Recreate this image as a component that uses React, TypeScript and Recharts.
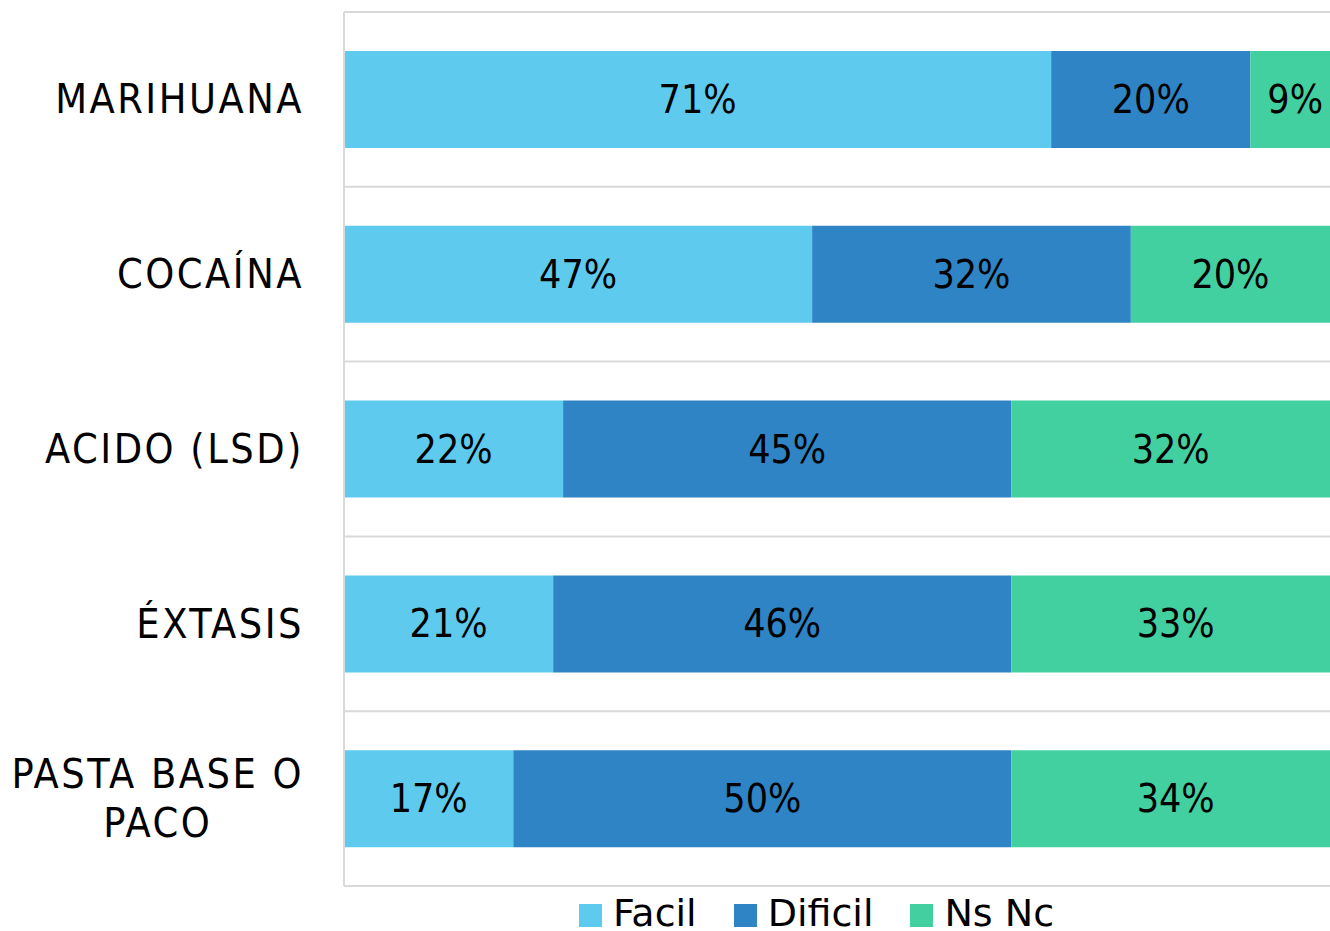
import React from 'react';
import { BarChart, Bar, XAxis, YAxis, CartesianGrid, Legend, LabelList } from 'recharts';

const categories = ['MARIHUANA', 'COCAÍNA', 'ACIDO (LSD)', 'ÉXTASIS', 'PASTA BASE O PACO'];
const facil = [71, 47, 22, 21, 17];
const dificil = [20, 32, 45, 46, 50];
const nsnc = [9, 20, 32, 33, 34];

const seriesNames = ['Facil', 'Dificil', 'Ns Nc'];
const seriesKeys = ['facil', 'dificil', 'nsnc'];
const seriesColors = ['#5ECBEE', '#2E84C4', '#43D0A1'];

const data = categories.map((name, i) => ({
  name,
  facil: facil[i],
  dificil: dificil[i],
  nsnc: nsnc[i],
}));

const CAT_FONT = '"DejaVu Sans Condensed", sans-serif';
const CAT_SIZE = 41;
const CAT_SPACING = 2.5;
const LABEL_FONT = '"DejaVu Sans Condensed", sans-serif';
const LEGEND_FONT = '"DejaVu Sans", sans-serif';

let ctx: CanvasRenderingContext2D | null = null;
function measure(text: string) {
  if (!ctx) ctx = document.createElement('canvas').getContext('2d');
  if (!ctx) return text.length * CAT_SIZE * 0.55;
  ctx.font = `${CAT_SIZE}px ${CAT_FONT}`;
  (ctx as any).letterSpacing = `${CAT_SPACING}px`;
  return ctx.measureText(text).width;
}

function wrap(label: string, max = 12) {
  const lines: string[] = [];
  let cur = '';
  label.split(' ').forEach((w) => {
    const next = cur ? `${cur} ${w}` : w;
    if (next.length > max && cur) {
      lines.push(cur);
      cur = w;
    } else cur = next;
  });
  if (cur) lines.push(cur);
  return lines;
}

function CategoryTick(props: any) {
  const { x, y, payload } = props;
  const lines = wrap(String(payload.value));
  const lh = 49;
  const block = Math.max(...lines.map(measure));
  const cx = x - block / 2;
  return (
    <g>
      {lines.map((l, i) => (
        <text
          key={i}
          x={lines.length > 1 ? cx : x}
          y={y + (i - (lines.length - 1) / 2) * lh}
          textAnchor={lines.length > 1 ? 'middle' : 'end'}
          dominantBaseline="central"
          fontFamily={CAT_FONT}
          fontSize={CAT_SIZE}
          letterSpacing={CAT_SPACING}
          fill="#000"
        >
          {l}
        </text>
      ))}
    </g>
  );
}

function BarLabel(props: any) {
  const { x, y, width, height, value } = props;
  return (
    <text
      x={x + width / 2}
      y={y + height / 2}
      textAnchor="middle"
      dominantBaseline="central"
      fontFamily={LABEL_FONT}
      fontSize={39}
      fill="#000"
    >
      {`${value}%`}
    </text>
  );
}

function LegendContent() {
  return (
    <div style={{ display: 'flex', alignItems: 'flex-end', paddingLeft: 579 }}>
      {seriesNames.map((n, i) => (
        <div key={n} style={{ display: 'flex', alignItems: 'flex-end', marginRight: 37 }}>
          <div style={{ width: 23, height: 23, background: seriesColors[i], marginRight: 11, marginBottom: 3 }} />
          <span style={{ fontFamily: LEGEND_FONT, fontSize: 38, lineHeight: '33px', color: '#000' }}>{n}</span>
        </div>
      ))}
    </div>
  );
}

export default function App() {
  return (
    <div style={{ position: 'absolute', left: 0, top: 0, width: 1330, height: 931, overflow: 'hidden', background: '#fff' }}>
      <BarChart
        width={1340}
        height={931}
        data={data}
        layout="vertical"
        margin={{ top: 12, right: 0, bottom: 45, left: 0 }}
        barSize={97}
      >
        <CartesianGrid
          vertical={false}
          stroke="#d9d9d9"
          strokeWidth={2}
          horizontalCoordinatesGenerator={({ offset }: any) =>
            Array.from({ length: categories.length + 1 }, (_, i) => offset.top + (offset.height * i) / categories.length)
          }
        />
        <XAxis type="number" hide domain={[0, 100]} allowDataOverflow />
        <YAxis
          type="category"
          dataKey="name"
          width={344}
          axisLine={{ stroke: '#d9d9d9', strokeWidth: 2 }}
          tickLine={false}
          tickSize={6}
          tickMargin={34}
          interval={0}
          tick={<CategoryTick />}
        />
        <Legend
          layout="horizontal"
          verticalAlign="middle"
          align="center"
          wrapperStyle={{ top: 897, left: 0, width: 1330 }}
          content={<LegendContent />}
        />
        {seriesKeys.map((k, i) => (
          <Bar key={k} dataKey={k} name={seriesNames[i]} stackId="a" fill={seriesColors[i]} isAnimationActive={false}>
            <LabelList dataKey={k} content={<BarLabel />} />
          </Bar>
        ))}
      </BarChart>
    </div>
  );
}
